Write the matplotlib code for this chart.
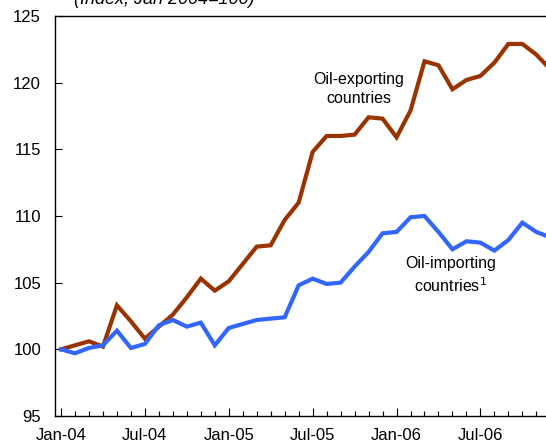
import numpy as np
import matplotlib
matplotlib.use("Agg")
import matplotlib.pyplot as plt
from matplotlib.ticker import MultipleLocator, FixedLocator

plt.rcParams['font.family'] = ['Liberation Sans', 'DejaVu Sans']

# monthly index, Jan 2004 = 100 (month 0 = Jan-04)
oil_exporting = [100.0, 100.3, 100.6, 100.2, 103.3, 102.1, 100.8, 101.7, 102.6, 103.9,
                 105.3, 104.4, 105.1, 106.4, 107.7, 107.8, 109.7, 111.0, 114.8, 116.0,
                 116.0, 116.1, 117.4, 117.3, 115.9, 117.9, 121.6, 121.3, 119.5, 120.2,
                 120.5, 121.5, 122.9, 122.9, 122.1, 121.0]
oil_importing = [100.0, 99.7, 100.1, 100.3, 101.4, 100.1, 100.4, 101.8, 102.2, 101.7,
                 102.0, 100.3, 101.6, 101.9, 102.2, 102.3, 102.4, 104.8, 105.3, 104.9,
                 105.0, 106.2, 107.3, 108.7, 108.8, 109.9, 110.0, 108.8, 107.5, 108.1,
                 108.0, 107.4, 108.2, 109.5, 108.8, 108.4]
tick_labels = ['Jan-04', 'Jul-04', 'Jan-05', 'Jul-05', 'Jan-06', 'Jul-06']

months = np.arange(len(oil_exporting))

fig = plt.figure(figsize=(5.46, 4.47), dpi=100)
ax = fig.add_axes([0.1007, 0.0694, 0.92, 0.8949])

ax.plot(months, oil_exporting, color='#993300', lw=3, solid_joinstyle='miter')
ax.plot(months, oil_importing, color='#3366FF', lw=3, solid_joinstyle='miter')

ax.set_ylim(95, 125)
ax.set_xlim(-0.43, 35.5)
ax.yaxis.set_major_locator(MultipleLocator(5))
ax.xaxis.set_major_locator(FixedLocator(np.arange(0, 36, 6)))
ax.xaxis.set_minor_locator(MultipleLocator(1))
ax.set_xticklabels(tick_labels)

ax.tick_params(axis='y', direction='in', length=5, width=0.8, labelsize=12, pad=10)
ax.tick_params(axis='x', which='major', direction='in', length=6, width=0.8,
               labelsize=12, pad=9)
ax.tick_params(axis='x', which='minor', direction='in', length=3.5, width=0.8)
for side in ['left', 'bottom', 'top', 'right']:
    ax.spines[side].set_linewidth(1)

ax.text(21.3, 119.5, 'Oil-exporting\ncountries', ha='center', va='center',
        fontsize=11.5, linespacing=1.3)
ax.text(27.85, 105.55, 'Oil-importing\ncountries$^{1}$', ha='center', va='center',
        fontsize=11.5, linespacing=1.3)

fig.text(0.30, 1.0, '(Index, Jan 2004=100)', ha='center', va='center',
         fontsize=13, style='italic')

fig.savefig('out.png', dpi=100)
